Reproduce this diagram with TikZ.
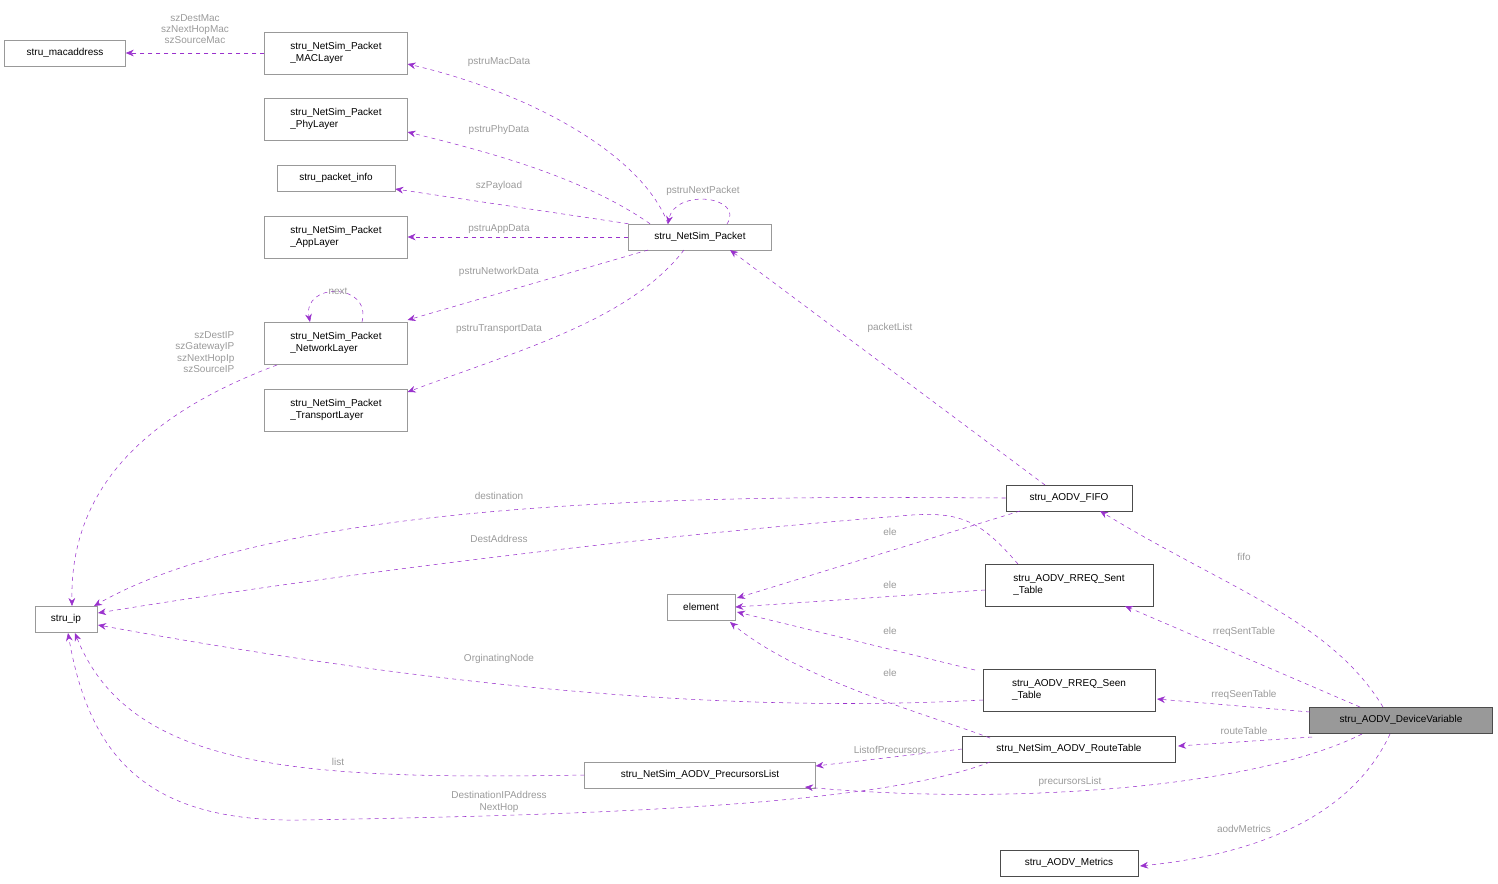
\documentclass[tikz,border=0pt]{standalone}
\usepackage{fontspec}
\setmainfont{Liberation Sans}
\usetikzlibrary{arrows.meta}
\definecolor{edge}{HTML}{9A32CD}
\definecolor{lbl}{HTML}{9A9A9A}
\begin{document}
\begin{tikzpicture}[x=0.75pt,y=-0.75pt,
 box/.style={draw=black!40,fill=white,font=\fontsize{7.5}{8.5}\selectfont,align=left,inner sep=2pt,minimum height=19.5pt},
 e/.style={draw=edge,dashed,thin,-{Stealth[length=6pt,width=5pt]}},
 l/.style={text=lbl,font=\fontsize{7.5}{8.5}\selectfont,align=center,inner sep=1pt}]
\useasboundingbox (0,0) rectangle (1498,883);
\node[box,minimum width=90.75pt] (mac) at (65,53) {stru\_macaddress};
\node[box,minimum width=107pt,minimum height=31.5pt] (macl) at (336,53) {stru\_NetSim\_Packet\\\_MACLayer};
\node[box,minimum width=107pt,minimum height=31.5pt] (phy) at (336,119) {stru\_NetSim\_Packet\\\_PhyLayer};
\node[box,minimum width=88.5pt] (pinfo) at (336,178) {stru\_packet\_info};
\node[box,minimum width=107pt,minimum height=31.5pt] (app) at (336,237) {stru\_NetSim\_Packet\\\_AppLayer};
\node[box,minimum width=107pt,minimum height=31.5pt] (net) at (336,343) {stru\_NetSim\_Packet\\\_NetworkLayer};
\node[box,minimum width=107pt,minimum height=31.5pt] (tr) at (336,410) {stru\_NetSim\_Packet\\\_TransportLayer};
\node[box,minimum width=107pt] (pk) at (700,237) {stru\_NetSim\_Packet};
\node[box,minimum width=46.5pt] (ip) at (66,619) {stru\_ip};
\node[box,minimum width=51pt] (el) at (701,607) {element};
\node[box,draw=black!70,minimum width=94.5pt] (fifo) at (1069,498) {stru\_AODV\_FIFO};
\node[box,draw=black!70,minimum width=126pt,minimum height=31.5pt] (sent) at (1069,585) {stru\_AODV\_RREQ\_Sent\\\_Table};
\node[box,draw=black!70,minimum width=129pt,minimum height=31.5pt] (seen) at (1069,690) {stru\_AODV\_RREQ\_Seen\\\_Table};
\node[box,draw=black!70,minimum width=160pt] (rt) at (1069,749) {stru\_NetSim\_AODV\_RouteTable};
\node[box,minimum width=173pt] (pl) at (700,775) {stru\_NetSim\_AODV\_PrecursorsList};
\node[box,draw=black!70,fill=black!40,minimum width=137pt] (dev) at (1401,720) {stru\_AODV\_DeviceVariable};
\node[box,draw=black!70,minimum width=103.5pt] (met) at (1069,863) {stru\_AODV\_Metrics};

\draw[e] (macl.west) -- (mac.east);
\node[l] at (195,29) {szDestMac\\szNextHopMac\\szSourceMac};
\draw[e] (pk.north) ++(-32,0) .. controls (640,150) and (520,90) .. (macl.east |- 0,64);
\node[l] at (499,62) {pstruMacData};
\draw[e] (pk.north) ++(-50,0) .. controls (580,175) and (480,150) .. (phy.east |- 0,132);
\node[l] at (499,130) {pstruPhyData};
\draw[e] (pk.north west) -- (pinfo.east |- 0,189);
\node[l] at (499,186) {szPayload};
\draw[e] (pk.west) -- (app.east);
\node[l] at (499,229) {pstruAppData};
\draw[e] (727,224) .. controls (745,196) and (675,188) .. (668,224);
\node[l] at (703,191) {pstruNextPacket};
\draw[e] (648,250) -- (net.east |- 0,320);
\node[l] at (499,272) {pstruNetworkData};
\draw[e] (362,322) .. controls (372,282) and (302,282) .. (310,322);
\node[l] at (338,291) {next};
\draw[e] (684,250) .. controls (630,320) and (520,350) .. (tr.east |- 0,392);
\node[l] at (499,329) {pstruTransportData};
\draw[e] (277,365) .. controls (130,420) and (70,500) .. (72,606);
\node[l,align=right,anchor=east] at (236,352) {szDestIP\\szGatewayIP\\szNextHopIp\\szSourceIP};
\draw[e] (1045,485) -- (730,250);
\node[l] at (890,328) {packetList};
\draw[e] (fifo.west) .. controls (800,497) and (300,488) .. (94,606);
\node[l] at (499,496) {destination};
\draw[e] (1018,564) .. controls (980,520) and (960,510) .. (900,516) .. controls (600,540) and (300,580) .. (98,613);
\node[l] at (499,539) {DestAddress};
\draw[e] (1020,511) -- (737,598);
\node[l] at (890,532) {ele};
\draw[e] (985,590) -- (el.east);
\node[l] at (890,585) {ele};
\draw[e] (975,670) -- (737,612);
\node[l] at (890,631) {ele};
\draw[e] (990,738) .. controls (930,715) and (800,680) .. (730,622);
\node[l] at (890,673) {ele};
\draw[e] (983,700) .. controls (700,715) and (400,680) .. (98,625);
\node[l] at (499,659) {OrginatingNode};
\draw[e] (pl.west) .. controls (300,780) and (130,770) .. (75,633);
\node[l] at (338,762) {list};
\draw[e] (990,762) .. controls (880,805) and (600,815) .. (300,820) .. controls (150,822) and (90,760) .. (68,633);
\node[l] at (499,802) {DestinationIPAddress\\NextHop};
\draw[e] (rt.west) -- (pl.east |- 0,766);
\node[l] at (890,750) {ListofPrecursors};
\draw[e] (1383,707) .. controls (1330,620) and (1230,590) .. (1100,511);
\node[l] at (1244,557) {fifo};
\draw[e] (1360,707) -- (1125,606);
\node[l] at (1244,632) {rreqSentTable};
\draw[e] (1310,712) -- (1157,699);
\node[l] at (1244,695) {rreqSeenTable};
\draw[e] (1312,737) -- (1178,746);
\node[l] at (1244,731) {routeTable};
\draw[e] (1362,734) .. controls (1250,790) and (1000,805) .. (805,787);
\node[l] at (1070,782) {precursorsList};
\draw[e] (1390,734) .. controls (1350,820) and (1250,855) .. (1140,866);
\node[l] at (1244,829) {aodvMetrics};
\end{tikzpicture}
\end{document}
